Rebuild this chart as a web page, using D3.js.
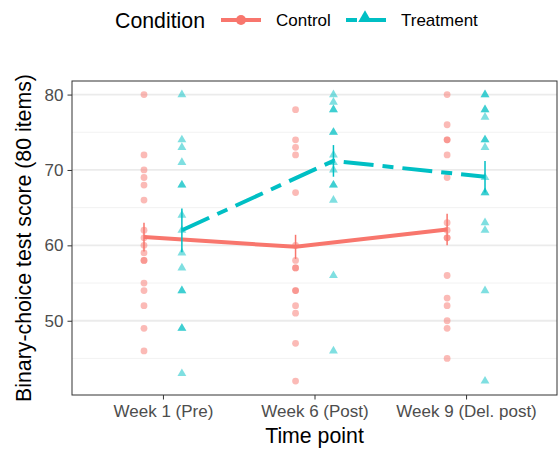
<!DOCTYPE html>
<html>
<head>
<meta charset="utf-8">
<script src="https://cdn.jsdelivr.net/npm/d3@7"></script>
<style>
  body { margin: 0; background: #fff; }
  text { font-family: "Liberation Sans", Arial, sans-serif; }
</style>
</head>
<body>
<svg width="558" height="450"></svg>
<script>
// Chart data
const timepoints = ["Week 1 (Pre)", "Week 6 (Post)", "Week 9 (Del. post)"];
const conditions = ["Control", "Treatment"];

// Individual scores per time point
const controlScores = [
    [80, 72, 70, 69, 68, 66, 62, 61, 60, 59, 58, 58, 55, 54, 52, 49, 46],
    [78, 74, 73, 72, 67, 60, 58, 57, 57, 54, 54, 52, 51, 47, 42],
    [80, 76, 74, 74, 72, 69, 63, 62, 61, 61, 56, 53, 52, 50, 49, 45]
];
const treatmentScores = [
    [80, 74, 73, 71, 68, 68, 64, 62, 59, 57, 54, 54, 49, 49, 43],
    [80, 79, 78, 78, 75, 75, 72, 71, 70, 68, 68, 66, 56, 46],
    [80, 80, 78, 78, 77, 74, 74, 73, 69, 67, 67, 63, 62, 54, 42]
];

// Group means and standard errors
const controlMean = [61.1, 59.8, 62.1];
const controlSE = [1.9, 1.6, 2.1];
const treatmentMean = [62.0, 71.2, 69.1];
const treatmentSE = [2.9, 2.1, 2.1];

const yTicks = [50, 60, 70, 80];
const yMinor = [45, 55, 65, 75];

const colors = { Control: "#F8766D", Treatment: "#00BFC4" };
const dash = "30,9,11,9";

// Dimensions
const width = 558;
const height = 450;
const margin = { top: 81, right: 1, bottom: 55, left: 72 };

const svg = d3.select("svg");

// Scales
const xScale = d3.scalePoint()
    .domain(timepoints)
    .range([margin.left, width - margin.right])
    .padding(0.6);

const yScale = d3.scaleLinear()
    .domain([40.15, 81.8])
    .range([height - margin.bottom, margin.top]);

const dodge = xScale.step() * 0.125;
const offset = { Control: -dodge, Treatment: dodge };

// Gridlines
svg.append("g")
    .selectAll("line")
    .data(yMinor)
    .join("line")
    .attr("x1", margin.left).attr("x2", width - margin.right)
    .attr("y1", d => yScale(d)).attr("y2", d => yScale(d))
    .attr("stroke", "#F2F2F2")
    .attr("stroke-width", 1);

svg.append("g")
    .selectAll("line")
    .data(yTicks)
    .join("line")
    .attr("x1", margin.left).attr("x2", width - margin.right)
    .attr("y1", d => yScale(d)).attr("y2", d => yScale(d))
    .attr("stroke", "#EBEBEB")
    .attr("stroke-width", 1.8);

// Build long-format points
const points = [];
timepoints.forEach((t, i) => {
    controlScores[i].forEach(v => points.push({ time: t, cond: "Control", score: v }));
    treatmentScores[i].forEach(v => points.push({ time: t, cond: "Treatment", score: v }));
});

const triangle = d3.symbol().type(d3.symbolTriangle).size(34);

// Raw points
svg.append("g")
    .selectAll("circle")
    .data(points.filter(d => d.cond === "Control"))
    .join("circle")
    .attr("cx", d => xScale(d.time) + offset.Control)
    .attr("cy", d => yScale(d.score))
    .attr("r", 3.4)
    .attr("fill", colors.Control)
    .attr("fill-opacity", 0.5);

svg.append("g")
    .selectAll("path")
    .data(points.filter(d => d.cond === "Treatment"))
    .join("path")
    .attr("d", triangle)
    .attr("transform", d => `translate(${xScale(d.time) + offset.Treatment},${yScale(d.score)})`)
    .attr("fill", colors.Treatment)
    .attr("fill-opacity", 0.5);

// Summary data
const summary = [
    { cond: "Control", mean: controlMean, se: controlSE },
    { cond: "Treatment", mean: treatmentMean, se: treatmentSE }
];

const line = d3.line()
    .x(d => d.x)
    .y(d => yScale(d.y));

summary.forEach(s => {
    const pts = timepoints.map((t, i) => ({ x: xScale(t) + offset[s.cond], y: s.mean[i] }));
    svg.append("path")
        .datum(pts)
        .attr("d", line)
        .attr("fill", "none")
        .attr("stroke", colors[s.cond])
        .attr("stroke-width", 4)
        .attr("stroke-dasharray", s.cond === "Treatment" ? dash : null);
});

summary.forEach(s => {
    svg.append("g")
        .selectAll("line")
        .data(timepoints)
        .join("line")
        .attr("x1", d => xScale(d) + offset[s.cond])
        .attr("x2", d => xScale(d) + offset[s.cond])
        .attr("y1", (d, i) => yScale(s.mean[i] - s.se[i]))
        .attr("y2", (d, i) => yScale(s.mean[i] + s.se[i]))
        .attr("stroke", colors[s.cond])
        .attr("stroke-width", 1.5);
});

// Panel border
svg.append("rect")
    .attr("x", margin.left)
    .attr("y", margin.top)
    .attr("width", width - margin.right - margin.left)
    .attr("height", height - margin.bottom - margin.top)
    .attr("fill", "none")
    .attr("stroke", "#333333")
    .attr("stroke-width", 1);

// Axes
const xAxis = svg.append("g")
    .attr("transform", `translate(0, ${height - margin.bottom})`)
    .call(d3.axisBottom(xScale).tickSize(4.5).tickSizeOuter(0).tickPadding(5));

const yAxis = svg.append("g")
    .attr("transform", `translate(${margin.left}, 0)`)
    .call(d3.axisLeft(yScale).tickValues(yTicks).tickSize(4.5).tickSizeOuter(0).tickPadding(4));

[xAxis, yAxis].forEach(ax => {
    ax.select(".domain").remove();
    ax.selectAll(".tick line").attr("stroke", "#333333").attr("stroke-width", 1);
    ax.selectAll(".tick text")
        .attr("fill", "#4D4D4D")
        .style("font-size", "17px")
        .style("font-family", "'Liberation Sans', Arial, sans-serif");
});

// Axis labels
svg.append("text")
    .attr("x", (margin.left + width - margin.right) / 2)
    .attr("y", 443)
    .attr("text-anchor", "middle")
    .style("font-size", "21.3px")
    .text("Time point");

svg.append("text")
    .attr("x", -(margin.top + height - margin.bottom) / 2)
    .attr("y", 31)
    .attr("transform", "rotate(-90)")
    .attr("text-anchor", "middle")
    .style("font-size", "21.3px")
    .text("Binary-choice test score (80 items)");

// Legend
const legend = svg.append("g");
legend.append("text")
    .attr("x", 115)
    .attr("y", 28)
    .style("font-size", "21.3px")
    .text("Condition");

const keyX = { Control: 221, Treatment: 346 };
conditions.forEach(c => {
    const x0 = keyX[c];
    legend.append("line")
        .attr("x1", x0).attr("x2", x0 + 40)
        .attr("y1", 20).attr("y2", 20)
        .attr("stroke", colors[c])
        .attr("stroke-width", 4)
        .attr("stroke-dasharray", c === "Treatment" ? "11,9,30,9" : null);
    if (c === "Control") {
        legend.append("circle")
            .attr("cx", x0 + 20).attr("cy", 20).attr("r", 5)
            .attr("fill", colors[c]);
    } else {
        legend.append("path")
            .attr("d", d3.symbol().type(d3.symbolTriangle).size(80))
            .attr("transform", `translate(${x0 + 19},18)`)
            .attr("fill", colors[c]);
    }
    legend.append("text")
        .attr("x", x0 + 55)
        .attr("y", 26)
        .style("font-size", "17px")
        .text(c);
});
</script>
</body>
</html>
